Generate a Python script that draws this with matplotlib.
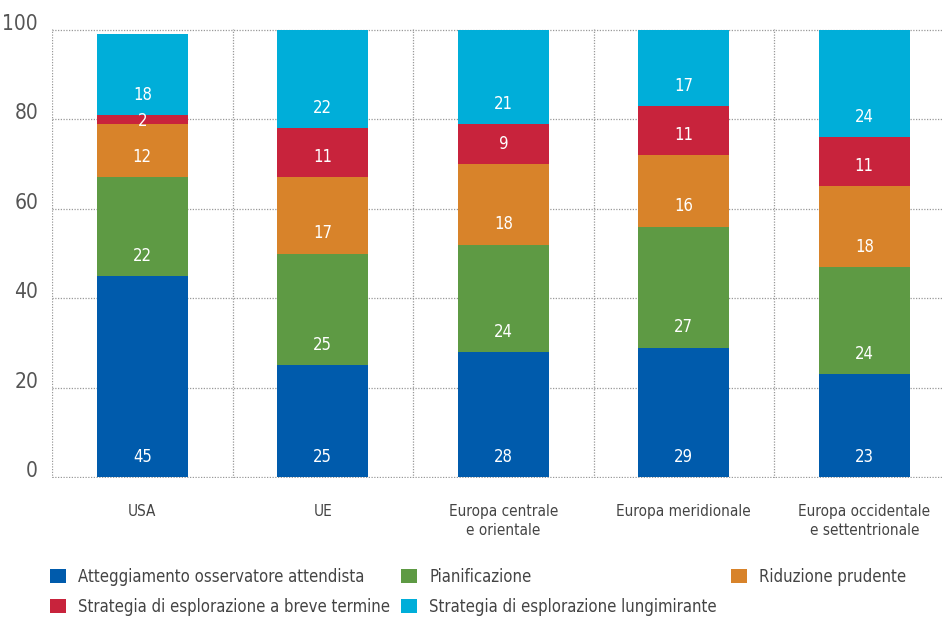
import matplotlib.pyplot as plt
from matplotlib.patches import Patch
import numpy as np

plt.rcParams['font.family'] = ['DejaVu Sans']
plt.rcParams['font.stretch'] = 'condensed'

regions = ["USA", "UE", "Europa centrale\ne orientale", "Europa meridionale",
           "Europa occidentale\ne settentrionale"]
series = ["Atteggiamento osservatore attendista", "Pianificazione", "Riduzione prudente",
          "Strategia di esplorazione a breve termine", "Strategia di esplorazione lungimirante"]
attendista = [45, 25, 28, 29, 23]
pianificazione = [22, 25, 24, 27, 24]
riduzione = [12, 17, 18, 16, 18]
breve = [2, 11, 9, 11, 11]
lungimirante = [18, 22, 21, 17, 24]
y_ticks = [0, 20, 40, 60, 80, 100]

colors = ["#005bac", "#5e9a44", "#d8832a", "#c8233c", "#00aed9"]

fig = plt.figure(figsize=(9.43, 6.2), dpi=100)
ax = fig.add_axes([52 / 943, 1 - 478 / 620, 1 - 52 / 943, (478 - 29) / 620])

x = np.arange(len(regions))
bottom = np.zeros(len(regions))
handles = []
for name, vals, col in zip(series, [attendista, pianificazione, riduzione, breve, lungimirante], colors):
    vals = np.array(vals, dtype=float)
    ax.bar(x, vals, width=0.505, bottom=bottom, color=col, zorder=3)
    for xi, b, v in zip(x, bottom, vals):
        # labels sit near the base of each segment
        off = 4.5 if v > 5 else v / 4
        ax.text(xi, b + off, f"{int(v)}", ha="center", va="center",
                color="white", fontsize=12, zorder=4)
    bottom += vals
    handles.append(Patch(facecolor=col, label=name))

ax.set_xlim(-0.5, 4.436)
ax.set_ylim(-0.15, 100.15)
ax.set_yticks(y_ticks)
ax.set_yticklabels([str(t) for t in y_ticks], fontsize=15, color="#555555")
for lab in ax.get_yticklabels():
    lab.set_verticalalignment("baseline")
ax.set_xticks(x)
ax.set_xticklabels(regions, fontsize=11, color="#444444", linespacing=1.3, va="top")
ax.set_xticks(np.arange(len(regions)) - 0.5, minor=True)
ax.tick_params(axis="both", which="both", length=0)
ax.tick_params(axis="x", pad=19)
ax.tick_params(axis="y", pad=10)

grid_kw = dict(color="#999999", linestyle=(0, (1, 1.2)), linewidth=0.9, zorder=1)
ax.grid(axis="y", which="major", **grid_kw)
ax.grid(axis="x", which="minor", **grid_kw)
ax.grid(axis="x", which="major", visible=False)
for s in ax.spines.values():
    s.set_visible(False)

# legend laid out as three columns at fixed positions
columns = [([0, 3], 50), ([1, 4], 401), ([2], 731)]
for idx, xpos in columns:
    fig.legend([handles[i] for i in idx], [series[i] for i in idx],
               loc="upper left", bbox_to_anchor=(xpos / 943, 1 - 568 / 620), ncol=1,
               frameon=False, fontsize=12, handlelength=0.95, handleheight=0.95,
               handletextpad=0.75, labelspacing=0.7, borderpad=0,
               borderaxespad=0, labelcolor="#444444")

fig.savefig("out.png", dpi=100)
